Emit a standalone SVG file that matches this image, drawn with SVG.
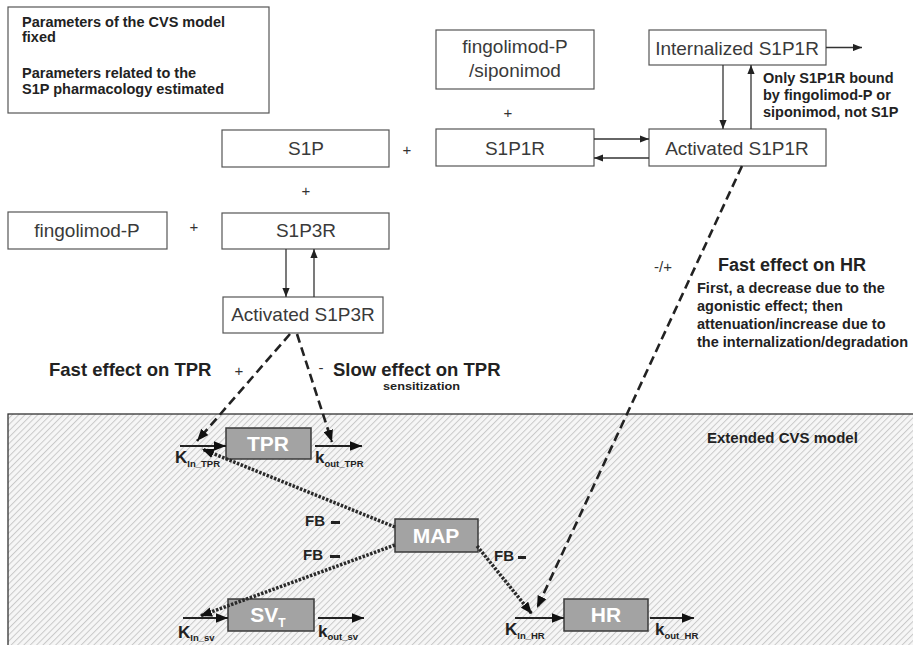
<svg xmlns="http://www.w3.org/2000/svg" width="913" height="645" viewBox="0 0 913 645">
<defs>
<style>
.box{fill:#fff;stroke:#555;stroke-width:1.2}
.gbox{fill:#a3a3a3;stroke:#3a3a3a;stroke-width:1.5}
.lbl{font-family:"Liberation Sans",Arial,sans-serif;font-size:19px;fill:#3a3a3a;text-anchor:middle}
.glbl{font-family:"Liberation Sans",Arial,sans-serif;font-size:21px;font-weight:bold;fill:#fff;text-anchor:middle}
.b{font-family:"Liberation Sans",Arial,sans-serif;font-weight:bold;fill:#222}
.note{font-size:14.5px}
.big{font-size:18.5px}
.plus{font-family:"Liberation Sans",Arial,sans-serif;font-size:15px;fill:#333;text-anchor:middle}
.k{font-family:"Liberation Sans",Arial,sans-serif;font-weight:bold;fill:#222;font-size:17px}
.sub{font-size:9.5px}
.sol{fill:none;stroke:#333;stroke-width:1.3}
.flow{fill:none;stroke:#222;stroke-width:2}
.dash{fill:none;stroke:#222;stroke-width:2.6;stroke-dasharray:9 5}
.dot{fill:none;stroke:#2a2a2a;stroke-width:3.5;stroke-dasharray:2.5 1.5}
</style>
<marker id="ah" viewBox="0 0 10 8" refX="10" refY="4" markerWidth="9" markerHeight="7.5" markerUnits="userSpaceOnUse" orient="auto"><path d="M0,0 L10,4 L0,8 z" fill="#222"/></marker>
<marker id="ahb" viewBox="0 0 10 8" refX="10" refY="4" markerWidth="12" markerHeight="10" markerUnits="userSpaceOnUse" orient="auto"><path d="M0,0 L10,4 L0,8 z" fill="#111"/></marker>
<pattern id="hatch" width="4.5" height="4.5" patternUnits="userSpaceOnUse" patternTransform="rotate(45)">
<rect width="4.5" height="4.5" fill="#f6f6f6"/>
<line x1="0.5" y1="0" x2="0.5" y2="4.5" stroke="#c9c9c9" stroke-width="1"/>
</pattern>
</defs>
<rect width="913" height="645" fill="#fff"/>

<g id="cvs-region">
<rect x="8" y="414" width="910" height="240" fill="url(#hatch)" stroke="#333" stroke-width="1.3"/>
<text class="b" x="707" y="443" font-size="15">Extended CVS model</text>
</g>

<g id="legend">
<rect x="8" y="7" width="261" height="106" class="box" stroke="#333"/>
<text class="b note" x="22" y="27">Parameters of the CVS model</text>
<text class="b note" x="22" y="42">fixed</text>
<text class="b note" x="22" y="78">Parameters related to the</text>
<text class="b note" x="22" y="94">S1P pharmacology estimated</text>
</g>

<g id="fingolimod-siponimod">
<rect x="436" y="30" width="158" height="59" class="box"/>
<text class="lbl" x="515" y="53">fingolimod-P</text>
<text class="lbl" x="515" y="77">/siponimod</text>
</g>
<g id="internalized-s1p1r">
<rect x="649" y="30" width="177" height="35" class="box"/>
<text class="lbl" x="737" y="55">Internalized S1P1R</text>
</g>
<g id="s1p">
<rect x="222" y="130" width="167" height="37" class="box"/>
<text class="lbl" x="306" y="155">S1P</text>
</g>
<g id="s1p1r">
<rect x="436" y="129" width="158" height="37" class="box"/>
<text class="lbl" x="515" y="155">S1P1R</text>
</g>
<g id="activated-s1p1r">
<rect x="649" y="129" width="177" height="37" class="box"/>
<text class="lbl" x="737" y="155">Activated S1P1R</text>
</g>
<g id="fingolimod-p">
<rect x="8" y="212" width="159" height="37" class="box"/>
<text class="lbl" x="87" y="237">fingolimod-P</text>
</g>
<g id="s1p3r">
<rect x="222" y="213" width="167" height="36" class="box"/>
<text class="lbl" x="306" y="237">S1P3R</text>
</g>
<g id="activated-s1p3r">
<rect x="223" y="297" width="160" height="36" class="box"/>
<text class="lbl" x="303" y="321">Activated S1P3R</text>
</g>

<g id="plus-signs">
<text class="plus" x="407" y="155">+</text>
<text class="plus" x="306" y="196">+</text>
<text class="plus" x="508" y="118">+</text>
<text class="plus" x="194" y="232">+</text>
</g>

<g id="tpr">
<rect x="226" y="428" width="85" height="31" class="gbox"/>
<text class="glbl" x="268" y="451">TPR</text>
</g>
<g id="map">
<rect x="395" y="519" width="83" height="33" class="gbox"/>
<text class="glbl" x="436" y="543">MAP</text>
</g>
<g id="svt">
<rect x="228" y="599" width="86" height="32" class="gbox"/>
<text class="glbl" x="268" y="622">SV<tspan font-size="12" dy="5">T</tspan></text>
</g>
<g id="hr">
<rect x="564" y="599" width="84" height="32" class="gbox"/>
<text class="glbl" x="606" y="622">HR</text>
</g>

<g id="connectors">
<line class="sol" x1="594" y1="139" x2="649" y2="139" marker-end="url(#ah)"/>
<line class="sol" x1="649" y1="158" x2="594" y2="158" marker-end="url(#ah)"/>
<line class="sol" x1="723" y1="65" x2="723" y2="129" marker-end="url(#ah)"/>
<line class="sol" x1="751" y1="129" x2="751" y2="65" marker-end="url(#ah)"/>
<line class="sol" x1="826" y1="47.5" x2="862" y2="47.5" marker-end="url(#ah)"/>
<line class="sol" x1="286" y1="249" x2="286" y2="297" marker-end="url(#ah)"/>
<line class="sol" x1="314" y1="297" x2="314" y2="249" marker-end="url(#ah)"/>

<line class="dash" x1="290" y1="334" x2="197" y2="441" marker-end="url(#ahb)"/>
<line class="dash" x1="297" y1="334" x2="332" y2="442" marker-end="url(#ahb)"/>
<line class="dash" x1="742" y1="166" x2="537" y2="608" marker-end="url(#ahb)"/>

<line class="flow" x1="180" y1="446" x2="226" y2="446" marker-end="url(#ahb)"/>
<line class="flow" x1="315" y1="446" x2="362" y2="446" marker-end="url(#ahb)"/>
<line class="flow" x1="183" y1="618" x2="228" y2="618" marker-end="url(#ahb)"/>
<line class="flow" x1="318" y1="618" x2="364" y2="618" marker-end="url(#ahb)"/>
<line class="flow" x1="515" y1="618" x2="564" y2="618" marker-end="url(#ahb)"/>
<line class="flow" x1="650" y1="618" x2="694" y2="618" marker-end="url(#ahb)"/>

<line class="dot" x1="395" y1="527" x2="202" y2="449" marker-end="url(#ahb)"/>
<line class="dot" x1="395" y1="545" x2="200" y2="616" marker-end="url(#ahb)"/>
<line class="dot" x1="477" y1="546" x2="532" y2="614" marker-end="url(#ahb)"/>
</g>

<g id="labels">
<text class="b" x="763" y="83" font-size="14.5">Only S1P1R bound</text>
<text class="b" x="763" y="100" font-size="14.5">by fingolimod-P or</text>
<text class="b" x="763" y="117" font-size="14.5">siponimod, not S1P</text>

<text class="b big" x="49" y="376">Fast effect on TPR</text>
<text class="plus" x="239" y="376">+</text>
<text class="plus" x="321" y="373">-</text>
<text class="b big" x="333" y="376">Slow effect on TPR</text>
<text class="b" x="383" y="390" font-size="10.5" textLength="77" lengthAdjust="spacingAndGlyphs">sensitization</text>

<text class="plus" x="663" y="272">-/+</text>
<text class="b" x="718" y="271" font-size="18">Fast effect on HR</text>
<text class="b note" x="697" y="293">First, a decrease due to the</text>
<text class="b note" x="697" y="311">agonistic effect; then</text>
<text class="b note" x="697" y="329">attenuation/increase due to</text>
<text class="b note" x="697" y="347">the internalization/degradation</text>

<text class="k" x="175" y="463">K<tspan class="sub" dy="4">In_TPR</tspan></text>
<text class="k" x="315" y="463">k<tspan class="sub" dy="4">out_TPR</tspan></text>
<text class="k" x="178" y="638">K<tspan class="sub" dy="3">In_sv</tspan></text>
<text class="k" x="318" y="637">k<tspan class="sub" dy="3">out_sv</tspan></text>
<text class="k" x="505" y="635">K<tspan class="sub" dy="4">In_HR</tspan></text>
<text class="k" x="655" y="635">k<tspan class="sub" dy="4">out_HR</tspan></text>

<text class="b" x="305" y="526" font-size="15">FB</text>
<rect x="331" y="521" width="9" height="3" fill="#222"/>
<text class="b" x="303" y="560" font-size="15">FB</text>
<rect x="330" y="555" width="10" height="3" fill="#222"/>
<text class="b" x="494" y="561" font-size="15">FB</text>
<rect x="518" y="556" width="8" height="3" fill="#222"/>
</g>
</svg>
